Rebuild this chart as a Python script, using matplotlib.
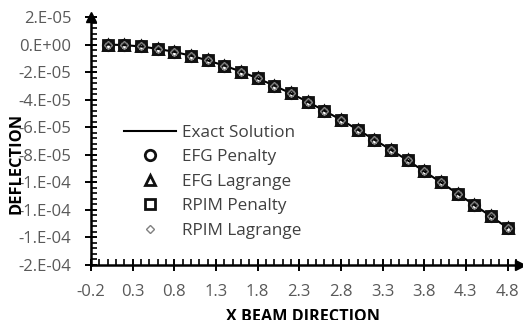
import numpy as np
import matplotlib.pyplot as plt
from matplotlib.ticker import MultipleLocator, FuncFormatter

plt.rcParams['font.family'] = ['Open Sans', 'DejaVu Sans']

# x positions along the beam and deflections (in 1e-6)
x_beam = [0.0, 0.2, 0.4, 0.6, 0.8, 1.0, 1.2, 1.4, 1.6, 1.8, 2.0, 2.2, 2.4,
          2.6, 2.8, 3.0, 3.2, 3.4, 3.6, 3.8, 4.0, 4.2, 4.4, 4.6, 4.8]
exact_um = [0.0, -0.4, -1.4, -3.1, -5.3, -8.1, -11.5, -15.3, -19.6, -24.5,
            -29.8, -35.5, -41.5, -48.0, -54.6, -61.7, -69.0, -76.4, -84.0,
            -92.0, -100.0, -108.2, -116.4, -124.6, -133.0]
efg_penalty_um = list(exact_um)
efg_lagrange_um = list(exact_um)
rpim_penalty_um = list(exact_um)
rpim_lagrange_um = list(exact_um)

x = np.array(x_beam)
scale = 1e-6

fig = plt.figure(figsize=(5.23, 3.2), dpi=100)
ax = fig.add_axes([91/523, 55/320, (520-91)/523, (303-55)/320])

ax.plot(x, np.array(exact_um)*scale, color='black', lw=1.5, label='Exact Solution', zorder=3)
ax.plot(x, np.array(efg_penalty_um)*scale, ls='none', marker='o', ms=7.5, mfc='none',
        mec='#111111', mew=2, label='EFG Penalty', zorder=4)
ax.plot(x, np.array(efg_lagrange_um)*scale, ls='none', marker='^', ms=7.5, mfc='none',
        mec='#111111', mew=2, label='EFG Lagrange', zorder=4)
ax.plot(x, np.array(rpim_penalty_um)*scale, ls='none', marker='s', ms=6.5, mfc='none',
        mec='#111111', mew=2, label='RPIM Penalty', zorder=4)
ax.plot(x, np.array(rpim_lagrange_um)*scale, ls='none', marker='D', ms=4, mfc='none',
        mec='#808080', mew=1.0, label='RPIM Lagrange', zorder=4)

ax.set_xlim(-0.2, 4.95)
ax.set_ylim(-1.6e-4, 2e-5)
ax.set_xticks([-0.2, 0.3, 0.8, 1.3, 1.8, 2.3, 2.8, 3.3, 3.8, 4.3, 4.8])
ax.xaxis.set_minor_locator(MultipleLocator(0.1))
ax.set_yticks(np.arange(-1.6e-4, 2.1e-5, 2e-5))
ax.yaxis.set_minor_locator(MultipleLocator(4e-6))
ax.xaxis.set_major_formatter(FuncFormatter(lambda v, p: f'{v:.1f}'))
ax.yaxis.set_major_formatter(FuncFormatter(lambda v, p: f'{0.0 if abs(v) < 1e-12 else v:#.0E}'))

for s in ['top', 'right']:
    ax.spines[s].set_visible(False)
for s in ['left', 'bottom']:
    ax.spines[s].set_linewidth(1.8)
ax.plot(1, 0, '>k', ms=7, transform=ax.transAxes, clip_on=False)
ax.plot(0, 1, '^k', ms=7, transform=ax.transAxes, clip_on=False)

ax.tick_params(which='major', direction='inout', length=8, width=1.4,
               labelsize=12, labelcolor='#595959')
ax.tick_params(axis='x', which='major', pad=10)
ax.tick_params(axis='y', which='major', pad=10)
ax.tick_params(which='minor', direction='in', length=4, width=1.2)

leg = ax.legend(loc='upper left', bbox_to_anchor=(115/523, 1-116/320),
                bbox_transform=fig.transFigure, frameon=False, fontsize=12.3,
                handlelength=3.05, handletextpad=0.4, labelspacing=0.5,
                borderpad=0)
for t in leg.get_texts():
    t.set_color('#404040')

fig.text(17/523, 1-163/320, 'DEFLECTION', rotation=90, ha='center', va='center',
         fontsize=11.8, fontweight='bold', color='black')
fig.text(303/523, 1-309/320, 'X BEAM DIRECTION', ha='center', va='top',
         fontsize=11.6, fontweight='bold', color='black')

fig.savefig('out.png', dpi=100)
